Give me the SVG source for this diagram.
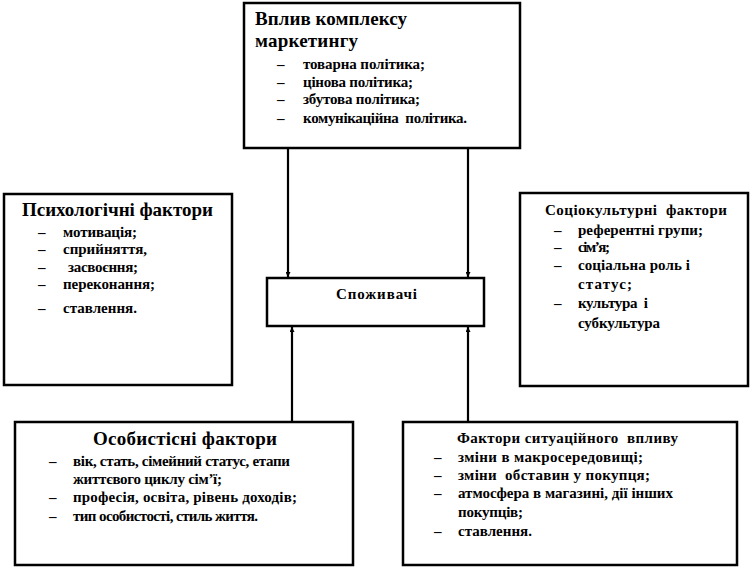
<svg xmlns="http://www.w3.org/2000/svg" width="752" height="570" viewBox="0 0 752 570">
<defs>
<style>
.box{fill:#fff;stroke:#000;stroke-width:2.5}
text{font-family:"Liberation Serif","Times New Roman",serif;font-weight:bold;fill:#000}
.t19{font-size:19px}
.t15{font-size:15px}
.mid{text-anchor:middle}
.conn{stroke:#000;stroke-width:2.2;fill:none}
</style>
<marker id="ah" viewBox="0 0 10 10" refX="10" refY="5" markerWidth="5" markerHeight="5" orient="auto" markerUnits="userSpaceOnUse">
<path d="M0,0 L10,5 L0,10 z" fill="#000"/>
</marker>
</defs>
<rect width="752" height="570" fill="#fff"/>
<g id="connectors">
<line class="conn" x1="288" y1="148" x2="288" y2="277" marker-end="url(#ah)"/>
<line class="conn" x1="468" y1="148" x2="468" y2="277" marker-end="url(#ah)"/>
<line class="conn" x1="292" y1="422" x2="292" y2="327" marker-end="url(#ah)"/>
<line class="conn" x1="468" y1="422" x2="468" y2="327" marker-end="url(#ah)"/>
</g>
<g id="marketing">
<rect class="box" x="244" y="3" width="276" height="145"/>
<text class="t19" x="255" y="25" textLength="152">Вплив комплексу</text>
<text class="t19" x="255" y="47" textLength="103">маркетингу</text>
<g class="t15">
<text x="277" y="69">–</text><text x="303" y="69" textLength="122">товарна політика;</text>
<text x="277" y="87">–</text><text x="303" y="87" textLength="110">цінова політика;</text>
<text x="277" y="104">–</text><text x="303" y="104" textLength="117">збутова політика;</text>
<text x="277" y="123">–</text><text x="303" y="123" textLength="164" xml:space="preserve">комунікаційна  політика.</text>
</g>
</g>
<g id="psych">
<rect class="box" x="4" y="194" width="228" height="191"/>
<text class="t19" x="22" y="216" textLength="191">Психологічні фактори</text>
<g class="t15">
<text x="38" y="237">–</text><text x="63" y="237" textLength="74">мотивація;</text>
<text x="38" y="254">–</text><text x="63" y="254" textLength="84">сприйняття,</text>
<text x="38" y="272">–</text><text x="68" y="272" textLength="70">засвоєння;</text>
<text x="38" y="289">–</text><text x="63" y="289" textLength="92">переконання;</text>
<text x="38" y="313">–</text><text x="63" y="313" textLength="74">ставлення.</text>
</g>
</g>
<g id="socio">
<rect class="box" x="520" y="193" width="228" height="193"/>
<text class="t15" x="545" y="215" textLength="182" xml:space="preserve">Соціокультурні  фактори</text>
<g class="t15">
<text x="554" y="235">–</text><text x="578" y="235" textLength="125">референтні групи;</text>
<text x="554" y="252">–</text><text x="578" y="252" textLength="32">сім’я;</text>
<text x="554" y="270">–</text><text x="578" y="270" textLength="112">соціальна роль і</text>
<text x="578" y="289" textLength="54">статус;</text>
<text x="554" y="308">–</text><text x="578" y="308" textLength="70" xml:space="preserve">культура  і</text>
<text x="578" y="328" textLength="82">субкультура</text>
</g>
</g>
<g id="consumers">
<rect class="box" x="267" y="278" width="217" height="48"/>
<text class="t15" x="336" y="299" textLength="81">Споживачі</text>
</g>
<g id="personal">
<rect class="box" x="15" y="422" width="338" height="143"/>
<text class="t19" x="93" y="445" textLength="184">Особистісні фактори</text>
<g class="t15">
<text x="49" y="466">–</text><text x="73" y="466" textLength="217">вік, стать, сімейний статус, етапи</text>
<text x="73" y="484" textLength="149">життєвого циклу сім’ї;</text>
<text x="49" y="502">–</text><text x="73" y="502" textLength="224">професія, освіта, рівень доходів;</text>
<text x="49" y="521">–</text><text x="73" y="521" textLength="185">тип особистості, стиль життя.</text>
</g>
</g>
<g id="situational">
<rect class="box" x="403" y="422" width="334" height="143"/>
<text class="t15" x="457" y="443" textLength="221" xml:space="preserve">Фактори ситуаційного  впливу</text>
<g class="t15">
<text x="434" y="462">–</text><text x="458" y="462" textLength="185">зміни в макросередовищі;</text>
<text x="434" y="480">–</text><text x="458" y="480" textLength="192" xml:space="preserve">зміни  обставин у покупця;</text>
<text x="434" y="498">–</text><text x="458" y="498" textLength="215">атмосфера в магазині, дії інших</text>
<text x="458" y="517" textLength="65">покупців;</text>
<text x="434" y="536">–</text><text x="458" y="536" textLength="74">ставлення.</text>
</g>
</g>
</svg>
